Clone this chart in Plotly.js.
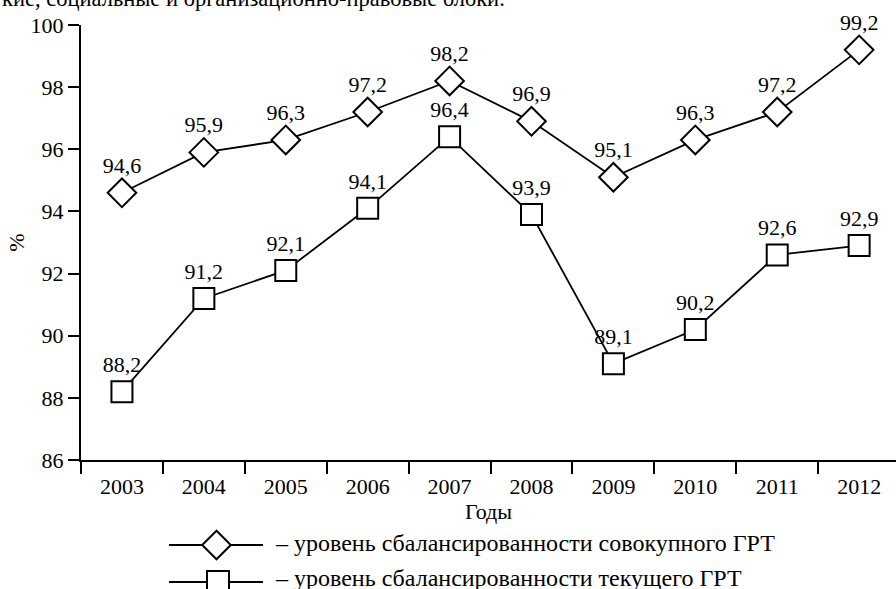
<!DOCTYPE html>
<html><head><meta charset="utf-8">
<script src="https://cdn.plot.ly/plotly-3.0.1.min.js"></script>
<style>html,body{margin:0;padding:0;background:#fff}</style>
</head><body><div id="chart" style="width:896px;height:589px"></div>
<script>
const years = ['2003','2004','2005','2006','2007','2008','2009','2010','2011','2012'];
const totalGRT = [94.6, 95.9, 96.3, 97.2, 98.2, 96.9, 95.1, 96.3, 97.2, 99.2];
const currentGRT = [88.2, 91.2, 92.1, 94.1, 96.4, 93.9, 89.1, 90.2, 92.6, 92.9];
const yTicks = [86, 88, 90, 92, 94, 96, 98, 100];
const legendTotal = '– уровень сбалансированности совокупного ГРТ';
const legendCurrent = '– уровень сбалансированности текущего ГРТ';
const topText = 'кие, социальные и организационно-правовые блоки.';

const fmt = v => v.toFixed(1).replace('.', ',');
const FONT = 'Liberation Serif';

const mainPlotBottomFrac = 129/564;
const legH = 84;

const traces = [
  {x: years, y: totalGRT, type:'scatter', mode:'lines+markers+text',
   text: totalGRT.map(fmt), textposition:'top center',
   textfont:{family:FONT, size:22, color:'#000'},
   line:{color:'#000', width:1.8},
   marker:{symbol:'diamond', size:22, color:'#fff', line:{color:'#000', width:2}},
   cliponaxis:false, showlegend:false, hoverinfo:'skip'},
  {x: years, y: currentGRT, type:'scatter', mode:'lines+markers+text',
   text: currentGRT.map(fmt), textposition:'top center',
   textfont:{family:FONT, size:22, color:'#000'},
   line:{color:'#000', width:1.8},
   marker:{symbol:'square', size:21, color:'#fff', line:{color:'#000', width:2}},
   cliponaxis:false, showlegend:false, hoverinfo:'skip'},
  {x:[169,263], y:[44,44], xaxis:'x2', yaxis:'y2', mode:'lines', line:{color:'#000', width:2}, showlegend:false, hoverinfo:'skip'},
  {x:[216.5], y:[44], xaxis:'x2', yaxis:'y2', mode:'markers', marker:{symbol:'diamond', size:22, color:'#fff', line:{color:'#000', width:2}}, showlegend:false, hoverinfo:'skip', cliponaxis:false},
  {x:[169,263], y:[7,7], xaxis:'x2', yaxis:'y2', mode:'lines', line:{color:'#000', width:2}, showlegend:false, hoverinfo:'skip'},
  {x:[218], y:[7], xaxis:'x2', yaxis:'y2', mode:'markers', marker:{symbol:'square', size:22, color:'#fff', line:{color:'#000', width:2}}, showlegend:false, hoverinfo:'skip', cliponaxis:false}
];

const layout = {
  width:896, height:589,
  margin:{l:81, r:0, t:25, b:0},
  paper_bgcolor:'#fff', plot_bgcolor:'rgba(0,0,0,0)',
  font:{family:FONT, size:22, color:'#000'},
  xaxis:{type:'category', range:[-0.5, 9.45], tickson:'boundaries',
    ticks:'outside', ticklen:12, tickwidth:2, tickcolor:'#000', ticklabelstandoff:6,
    showline:true, linewidth:2, linecolor:'#000', showgrid:false, zeroline:false,
    tickfont:{family:FONT, size:22}, anchor:'y',
    title:{text:'Годы', font:{family:FONT, size:22}, standoff:2}},
  yaxis:{range:[86,100], tickvals:yTicks, ticktext:yTicks.map(String),
    domain:[mainPlotBottomFrac, 1],
    ticks:'outside', ticklen:11, tickwidth:2, tickcolor:'#000',
    showline:true, linewidth:2, linecolor:'#000', showgrid:false, zeroline:false,
    tickfont:{family:FONT, size:22}, anchor:'x',
    title:{text:'%', font:{family:FONT, size:22}, standoff:0}},
  xaxis2:{domain:[0,1], range:[81,896], visible:false, anchor:'y2', fixedrange:true},
  yaxis2:{domain:[0, legH/564], range:[0,legH], visible:false, anchor:'x2', fixedrange:true},
  annotations:[
    {xref:'x2', yref:'y2', x:273, y:46, xanchor:'left', yanchor:'middle', text:legendTotal, showarrow:false, font:{family:FONT, size:24}},
    {xref:'x2', yref:'y2', x:273, y:11, xanchor:'left', yanchor:'middle', text:legendCurrent, showarrow:false, font:{family:FONT, size:24}},
    {xref:'paper', yref:'paper', x:-81/815, y:1, yshift:12, xanchor:'left', yanchor:'bottom', text:topText, showarrow:false, font:{family:FONT, size:22.5}}
  ],
  showlegend:false
};
Plotly.newPlot('chart', traces, layout, {displayModeBar:false, staticPlot:true});
</script></body></html>
